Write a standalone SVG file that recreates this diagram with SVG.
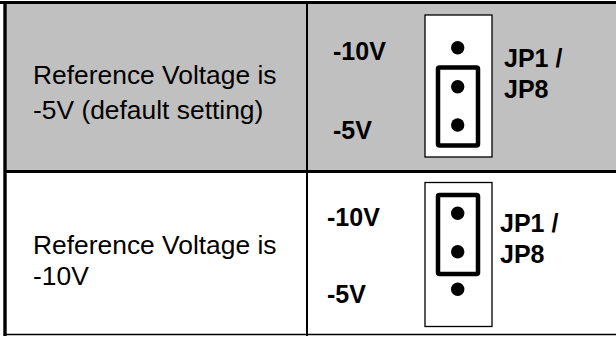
<svg xmlns="http://www.w3.org/2000/svg" width="616" height="337" viewBox="0 0 616 337">
<style>
.lbl{font-family:"Liberation Sans",Arial,sans-serif;font-size:26.4px;fill:#000}
.b{font-family:"Liberation Sans",Arial,sans-serif;font-size:25px;font-weight:bold;fill:#000}
.hdr{fill:#fff;stroke:#000;stroke-width:1.3}
.jmp{fill:none;stroke:#000;stroke-width:4.5}
.pin{fill:#000}
.grid{stroke:#000;fill:none}
</style>
<rect x="0" y="0" width="616" height="337" fill="#fff"/>
<rect x="6" y="3" width="610" height="168" fill="#c0c0c0"/>
<g id="connectors">
<line class="grid" x1="0" y1="2.5" x2="616" y2="2.5" stroke-width="3"/>
<line class="grid" x1="5" y1="1" x2="5" y2="336" stroke-width="3.4"/>
<line class="grid" x1="5" y1="171.5" x2="616" y2="171.5" stroke-width="3"/>
<line class="grid" x1="307" y1="2" x2="307" y2="336" stroke-width="2"/>
<line class="grid" x1="5" y1="334.5" x2="616" y2="334.5" stroke-width="1.5"/>
</g>
<g id="row1-desc">
<text class="lbl" x="33" y="83.5">Reference Voltage is</text>
<text class="lbl" x="33" y="118.5">-5V (default setting)</text>
</g>
<g id="row1-jumper">
<text class="b" x="333" y="60">-10V</text>
<text class="b" x="333" y="139">-5V</text>
<rect class="hdr" x="425" y="15" width="67" height="142"/>
<rect class="jmp" x="438" y="67.5" width="40" height="78" rx="1.5"/>
<circle class="pin" cx="457.7" cy="47.7" r="6.7"/>
<circle class="pin" cx="457.7" cy="86.7" r="6.7"/>
<circle class="pin" cx="457.7" cy="125" r="6.7"/>
<text class="b" x="504" y="66.5">JP1 /</text>
<text class="b" x="504" y="97.5">JP8</text>
</g>
<g id="row2-desc">
<text class="lbl" x="33" y="254.3">Reference Voltage is</text>
<text class="lbl" x="33" y="285">-10V</text>
</g>
<g id="row2-jumper">
<text class="b" x="327" y="226">-10V</text>
<text class="b" x="327" y="302.5">-5V</text>
<rect class="hdr" x="425" y="182.5" width="67" height="144"/>
<rect class="jmp" x="438" y="195" width="40" height="79" rx="1.5"/>
<circle class="pin" cx="457.7" cy="213.3" r="6.7"/>
<circle class="pin" cx="457.7" cy="251.7" r="6.7"/>
<circle class="pin" cx="457.7" cy="289.3" r="6.7"/>
<text class="b" x="500" y="232.3">JP1 /</text>
<text class="b" x="500" y="263.3">JP8</text>
</g>
</svg>
